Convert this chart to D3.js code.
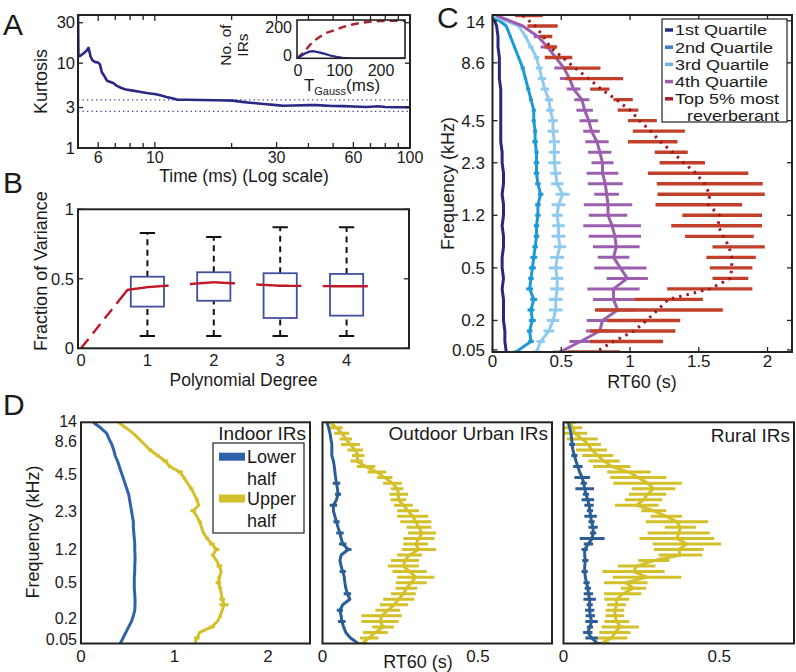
<!DOCTYPE html>
<html><head><meta charset="utf-8">
<script src="https://cdn.jsdelivr.net/npm/d3@7"></script>
<style>
body{margin:0;background:#fff}
svg{display:block}
text{font-family:"Liberation Sans",Arial,Helvetica,sans-serif;fill:#1a1a1a}
</style>
</head><body>
<svg id="chart" width="796" height="672"></svg>
<script>
// ================= DATA =================
// Panel A: kurtosis vs time
const kurtTime  = [5.0,5.02,5.1,5.25,5.4,5.5,5.6,5.7,5.85,6.0, 6.1,6.2,6.35,6.5,6.7,6.9,7.1,7.4,7.7,8.2, 8.7,9.3,10.1,10.6,11.1,11.7,12.2,13.5,15,17.5, 20.2,22,23.6,25.5,27.4,30,31.8,35,40,43, 49.8,55,60,67.5,75,80,90,100];
const kurtValue = [40,12.0,12.2,13.0,14.0,15.2,12.0,10.8,10.3,10.2, 9.6,7.8,7.0,6.2,6.0,5.8,5.4,5.1,4.9,4.75, 4.6,4.45,4.3,4.15,4.0,3.85,3.72,3.7,3.68,3.65, 3.62,3.5,3.42,3.35,3.28,3.2,3.15,3.17,3.2,3.2, 3.13,3.12,3.08,3.04,3.1,3.05,3.02,3.02];
const kurtRefLevels = [3.7, 2.7];
const aXTicks = [6,10,30,60,100];
const aXMinor = [5,7,8,9,20,40,50,70,80,90];
const aYTicks = [1,3,10,30];
// Panel A inset
const gaussTime = [0,10,20,31,42,55,70,92,110,136,155,176,200,230,260];
const gaussCum  = [0,25,55,94,125,152,178,200,220,240,250,258,262,264,265];
const irTime    = [0,10,20,30,38,50,65,80,95,110,125,140,260];
const irCount   = [0,18,35,47,50,44,33,20,10,4,1,0,0];
const insetXTicks = [0,100,200];
const insetYTicks = [0,200];
// Panel B: boxplots by polynomial degree
const degrees   = [1,2,3,4];
const boxQ1     = [0.30,0.342,0.218,0.235];
const boxQ3     = [0.515,0.547,0.54,0.535];
const boxMedian = [0.44,0.475,0.45,0.446];
const whiskLo   = [0.088,0.088,0.088,0.088];
const whiskHi   = [0.83,0.80,0.87,0.87];
const fitOriginX = [0,0.7];
const fitOriginY = [0,0.42];
const bXTicks = [0,1,2,3,4];
const bYTicks = [0,0.5,1];
// Panel C: RT60 per frequency band (33 bands, top = 14 kHz)
const cBands = d3.range(33);
const q1RT = [0.0,0.03,0.04,0.04,0.05,0.05,0.05,0.06,0.06,0.06, 0.06,0.06,0.06,0.07,0.07,0.08,0.08,0.07,0.08,0.08, 0.07,0.08,0.08,0.07,0.07,0.08,0.07,0.08,0.08,0.08, 0.09,0.09,0.10];
const q2RT = [0.0,0.10,0.13,0.16,0.19,0.22,0.24,0.26,0.28,0.30, 0.30,0.31,0.31,0.32,0.32,0.32,0.33,0.35,0.33,0.33, 0.32,0.32,0.31,0.30,0.29,0.28,0.27,0.30,0.28,0.29, 0.27,0.28,0.17];
const q2Err = [0,0.005,0.01,0.01,0.01,0.015,0.01,0.015,0.015,0.015, 0.015,0.015,0.02,0.015,0.02,0.02,0.02,0.02,0.02,0.02, 0.02,0.02,0.02,0.025,0.025,0.02,0.025,0.025,0.025,0.025, 0.02,0.02,0.015];
const q3RT = [0.0,0.19,0.24,0.28,0.32,0.34,0.36,0.38,0.41,0.42, 0.44,0.44,0.45,0.45,0.45,0.46,0.47,0.51,0.48,0.47, 0.48,0.48,0.49,0.47,0.46,0.47,0.47,0.46,0.46,0.44, 0.41,0.35,0.32];
const q3Err = [0,0.01,0.015,0.02,0.02,0.025,0.03,0.03,0.03,0.03, 0.035,0.04,0.04,0.04,0.045,0.04,0.045,0.05,0.05,0.04, 0.045,0.05,0.045,0.05,0.05,0.045,0.05,0.05,0.05,0.045, 0.04,0.03,0.03];
const q4RT = [0.03,0.22,0.33,0.40,0.46,0.52,0.56,0.59,0.65,0.67, 0.70,0.72,0.76,0.78,0.80,0.80,0.82,0.83,0.84,0.84, 0.87,0.89,0.90,0.88,0.93,0.98,0.88,0.88,0.91,0.80, 0.78,0.64,0.49];
const q4Err = [0,0,0.03,0.05,0.07,0.07,0.07,0.05,0.055,0.06, 0.067,0.06,0.085,0.085,0.08,0.115,0.127,0.09,0.176,0.14, 0.21,0.19,0.17,0.115,0.19,0.15,0.19,0.15,0.13,0.115, 0.1,0.08,0.05];
const topRT = [0.265,0.364,0.39,0.425,0.48,0.65,0.74,0.78,0.95,0.985, 1.09,1.21,1.165,1.30,1.38,1.495,1.58,1.59,1.50,1.67, 1.63,1.65,1.79,1.735,1.735,1.73,1.58,1.28,1.21,1.10, 1.02,0.975,0.735];
const topErr = [0.10,0.11,0.045,0.045,0.10,0.135,0.21,0.07,0.07,0.075, 0.105,0.19,0.18,0.12,0.165,0.365,0.385,0.39,0.315,0.29, 0.33,0.25,0.19,0.18,0.155,0.13,0.31,0.25,0.465,0.265, 0.31,0.265,0.19];
const topMedian = [0.22,0.31,0.37,0.42,0.51,0.60,0.70,0.79,0.90,1.00, 1.07,1.15,1.22,1.31,1.39,1.48,1.54,1.58,1.57,1.65, 1.64,1.68,1.72,1.74,1.74,1.73,1.58,1.28,1.20,1.12, 1.03,0.88,0.75];
const cYTickPos = [0.5,4.5,10,14,19,24,29,31.8];
const freqLabels = ["14","8.6","4.5","2.3","1.2","0.5","0.2","0.05"];
const cXTicks = [0,0.5,1,1.5,2];
const cLegend = ["1st Quartile","2nd Quartile","3rd Quartile","4th Quartile","Top 5% most"];
// Panel D: 41 band positions (top = 14 kHz)
const dBands = d3.range(41);
const dYTickPos = [0,3.2,9.5,16.1,22.9,29.0,35.5,39.3];
const indoorLow = [0.13,0.21,0.275,0.30,0.33,0.35,0.365,0.39,0.41,0.43, 0.45,0.47,0.49,0.51,0.52,0.53,0.54,0.55,0.56,0.56, 0.565,0.57,0.575,0.575,0.578,0.578,0.575,0.575,0.57,0.57, 0.57,0.575,0.578,0.578,0.575,0.56,0.54,0.51,0.48,0.45, 0.42];
const indoorLowErr = new Array(41).fill(0);
const indoorUp = [0.40,0.48,0.56,0.62,0.68,0.74,0.82,0.90,0.95,1.06, 1.10,1.14,1.18,1.21,1.24,1.26,1.20,1.24,1.27,1.29, 1.31,1.35,1.40,1.45,1.41,1.45,1.48,1.50,1.48,1.47, 1.49,1.50,1.51,1.53,1.51,1.49,1.46,1.40,1.27,1.24, 1.22];
const indoorUpErr = [0,0,0,0,0,0.02,0.02,0.03,0.02,0.03, 0.02,0,0.02,0,0.02,0,0.03,0,0.02,0, 0,0.02,0.03,0.03,0.02,0,0.03,0,0.02,0.03, 0.02,0,0.03,0.05,0,0.02,0,0.03,0,0.03, 0];
const urbanLow = [0.014,0.02,0.024,0.027,0.03,0.03,0.03,0.035,0.038,0.04, 0.042,0.045,0.048,0.05,0.045,0.035,0.035,0.04,0.045,0.05, 0.056,0.06,0.065,0.083,0.06,0.056,0.06,0.065,0.07,0.072, 0.075,0.08,0.088,0.065,0.056,0.06,0.062,0.068,0.075,0.09, 0.115];
const urbanLowErr = [0,0,0,0,0,0,0,0,0,0, 0,0.012,0,0.01,0,0.012,0,0,0.01,0, 0.012,0,0.012,0.01,0,0,0,0.01,0,0, 0,0.012,0,0,0.01,0,0.012,0,0,0, 0];
const urbanUp = [0.024,0.045,0.062,0.075,0.09,0.105,0.115,0.11,0.14,0.175, 0.20,0.225,0.24,0.245,0.244,0.26,0.275,0.29,0.30,0.31, 0.32,0.31,0.30,0.31,0.28,0.265,0.26,0.28,0.30,0.285, 0.27,0.26,0.245,0.23,0.21,0.19,0.185,0.195,0.17,0.15, 0.126];
const urbanUpErr = [0.01,0.02,0.024,0.02,0.03,0.025,0.02,0.02,0.03,0.03, 0.025,0.03,0.02,0.03,0.025,0.03,0.035,0.05,0.05,0.04, 0.045,0.05,0.04,0.055,0.04,0.045,0.05,0.055,0.06,0.05, 0.035,0.04,0.05,0.045,0.04,0.065,0.06,0.035,0.04,0.03, 0.02];
const ruralLow = [0.015,0.02,0.024,0.026,0.028,0.03,0.035,0.04,0.046,0.052, 0.06,0.065,0.068,0.072,0.078,0.082,0.085,0.087,0.09,0.095, 0.095,0.092,0.08,0.068,0.068,0.07,0.068,0.068,0.07,0.074, 0.078,0.08,0.084,0.084,0.084,0.086,0.09,0.085,0.078,0.09, 0.11];
const ruralLowErr = [0,0,0,0,0.01,0,0.01,0,0.015,0, 0.025,0.01,0.03,0.01,0.02,0.015,0.01,0.02,0.01,0.015, 0.01,0.04,0.015,0.01,0,0.01,0,0.01,0,0.01, 0.01,0.015,0.02,0.01,0.015,0.015,0.02,0.01,0.015,0.02, 0.01];
const ruralUp = [0.02,0.03,0.036,0.06,0.08,0.09,0.11,0.13,0.155,0.21, 0.24,0.27,0.289,0.27,0.257,0.235,0.29,0.33,0.364,0.375, 0.37,0.364,0.396,0.37,0.375,0.29,0.235,0.225,0.268,0.20, 0.225,0.19,0.171,0.17,0.165,0.165,0.171,0.182,0.165,0.155, 0.118];
const ruralUpErr = [0.02,0.03,0.04,0.05,0.04,0.05,0.05,0.05,0.06,0.07, 0.09,0.11,0.07,0.06,0.06,0.07,0.04,0.05,0.1,0.05, 0.1,0.12,0.11,0.08,0.07,0.05,0.06,0.1,0.11,0.07, 0.04,0.06,0.04,0.03,0.03,0.03,0.04,0.06,0.05,0.05, 0.03];
const dTitles = ["Indoor IRs","Outdoor Urban IRs","Rural IRs"];
const dXTicks = [[0,1,2],[0,0.5],[0,0.5]];
const dLegend = [["Lower","half"],["Upper","half"]];

// ================= HELPERS =================
const svg = d3.select("#chart");
const defs = svg.append("defs");
const INK = "#222";
function txt(x, y, s, size, anchor, rotate) {
  const t = svg.append("text").attr("x", x).attr("y", y).attr("dy", "0.35em")
    .attr("text-anchor", anchor || "middle").attr("font-size", size || 17).text(s);
  if (rotate) t.attr("transform", `rotate(-90,${x},${y})`);
  return t;
}
// text drawn with the width of a larger font but a shorter line height
function txtWide(x, y, s, wideSize, size, anchor) {
  const t = txt(x, y, s, wideSize, anchor);
  const w = t.node().getComputedTextLength();
  t.attr("font-size", size).attr("textLength", w).attr("lengthAdjust", "spacingAndGlyphs");
  return t;
}
function clip(id, x0, y0, x1, y1) {
  defs.append("clipPath").attr("id", id).append("rect")
    .attr("x", x0).attr("y", y0).attr("width", x1 - x0).attr("height", y1 - y0);
  return svg.append("g").attr("clip-path", `url(#${id})`);
}
function frame(x0, y0, x1, y1, sw) {
  svg.append("rect").attr("x", x0).attr("y", y0).attr("width", x1 - x0).attr("height", y1 - y0)
    .attr("fill", "none").attr("stroke", INK).attr("stroke-width", sw || 2);
}
function xTicks(pos, y0, y1, len, top) {
  pos.forEach(p => {
    svg.append("line").attr("x1", p).attr("x2", p).attr("y1", y1).attr("y2", y1 - len).attr("stroke", INK).attr("stroke-width", 1.3);
    if (top) svg.append("line").attr("x1", p).attr("x2", p).attr("y1", y0).attr("y2", y0 + len).attr("stroke", INK).attr("stroke-width", 1.3);
  });
}
function yTicks(pos, x0, x1, len) {
  pos.forEach(p => {
    svg.append("line").attr("y1", p).attr("y2", p).attr("x1", x0).attr("x2", x0 + len).attr("stroke", INK).attr("stroke-width", 1.3);
    svg.append("line").attr("y1", p).attr("y2", p).attr("x1", x1).attr("x2", x1 - len).attr("stroke", INK).attr("stroke-width", 1.3);
  });
}
const fmt = d => String(d);

// ================= PANEL A =================
const ax = d3.scaleLog().domain([5, 100]).range([78, 410]);
const ay = d3.scaleLog().domain([1, 37]).range([148, 15]);
const gA = clip("clipA", 78, 15, 410, 148);
kurtRefLevels.forEach(l => {
  gA.append("line").attr("x1", ax(5)).attr("x2", ax(100)).attr("y1", ay(l)).attr("y2", ay(l))
    .attr("stroke", "#3c3c8c").attr("stroke-width", 1.3).attr("stroke-dasharray", "1.3,3.2");
});
gA.append("path").datum(d3.zip(kurtTime, kurtValue))
  .attr("d", d3.line().x(d => ax(d[0])).y(d => ay(d[1])))
  .attr("fill", "none").attr("stroke", "#2a2a86").attr("stroke-width", 2.6).attr("stroke-linejoin", "round");
frame(78, 15, 410, 148);
xTicks(aXTicks.map(ax), 15, 148, 6, true);
xTicks(aXMinor.map(ax), 15, 148, 5, true);
yTicks(aYTicks.map(ay), 78, 410, 5);
aXTicks.forEach(t => txt(ax(t), 157.5, fmt(t), 16));
aYTicks.forEach(t => txt(75, ay(t), fmt(t), 16.5, "end"));
txt(244, 176, "Time (ms) (Log scale)", 17.5);
txt(41, 81.5, "Kurtosis", 18, "middle", true);

// inset
const ix = d3.scaleLinear().domain([0, 260]).range([297, 405]);
const iy = d3.scaleLinear().domain([0, 270]).range([58.3, 20]);
svg.append("rect").attr("x", 297).attr("y", 20).attr("width", 108).attr("height", 38.3).attr("fill", "#fff");
const gI = clip("clipI", 297, 20, 405, 58.3);
gI.append("path").datum(d3.zip(gaussTime, gaussCum))
  .attr("d", d3.line().x(d => ix(d[0])).y(d => iy(d[1])))
  .attr("fill", "none").attr("stroke", "#a8242a").attr("stroke-width", 2.4).attr("stroke-dasharray", "8,5");
gI.append("path").datum(d3.zip(irTime, irCount))
  .attr("d", d3.line().x(d => ix(d[0])).y(d => iy(d[1])))
  .attr("fill", "none").attr("stroke", "#2a2a86").attr("stroke-width", 2.2);
frame(297, 20, 405, 58.3, 1.6);
insetXTicks.forEach(t => txt(ix(t) + 1, 70.5, fmt(t), 16));
insetYTicks.forEach(t => txt(292, iy(t) - 2.5, fmt(t), 16, "end"));
txt(226, 45, "No. of", 15.5, "middle", true);
txt(243, 45, "IRs", 15.5, "middle", true);
const tg = svg.append("text").attr("x", 342).attr("y", 85).attr("dy", "0.35em").attr("text-anchor", "middle").attr("font-size", 17);
tg.append("tspan").text("T");
tg.append("tspan").attr("font-size", 11).attr("dy", 4).text("Gauss");
tg.append("tspan").attr("dy", -4).text("(ms)");

// ================= PANEL B =================
const bx = d3.scaleLinear().domain([-0.045, 4.94]).range([78, 409]);
const by = d3.scaleLinear().domain([0, 1]).range([348.3, 209.3]);
const gB = clip("clipB", 78, 209.3, 409, 348.3);
degrees.forEach((d, i) => {
  [[whiskLo[i], boxQ1[i]], [boxQ3[i], whiskHi[i]]].forEach(([a, b]) => {
    gB.append("line").attr("x1", bx(d)).attr("x2", bx(d)).attr("y1", by(a)).attr("y2", by(b))
      .attr("stroke", "#111").attr("stroke-width", 2).attr("stroke-dasharray", "6,4.5");
  });
  [whiskLo[i], whiskHi[i]].forEach(v => {
    gB.append("line").attr("x1", bx(d - 0.115)).attr("x2", bx(d + 0.115)).attr("y1", by(v)).attr("y2", by(v))
      .attr("stroke", "#111").attr("stroke-width", 2);
  });
  gB.append("rect").attr("x", bx(d - 0.25)).attr("y", by(boxQ3[i]))
    .attr("width", bx(d + 0.25) - bx(d - 0.25)).attr("height", by(boxQ1[i]) - by(boxQ3[i]))
    .attr("fill", "none").attr("stroke", "#4050a0").attr("stroke-width", 1.8);
});
const redX = fitOriginX.concat(degrees), redY = fitOriginY.concat(boxMedian);
const redInterp = d3.scaleLinear().domain(redX).range(redY);
gB.append("line").attr("x1", bx(fitOriginX[0])).attr("y1", by(fitOriginY[0]))
  .attr("x2", bx(fitOriginX[1])).attr("y2", by(fitOriginY[1]))
  .attr("stroke", "#c01828").attr("stroke-width", 2.4).attr("stroke-dasharray", "12,7");
degrees.forEach(d => {
  const xs = d3.range(d - 0.36, d + 0.34, 0.02);
  gB.append("path").datum(xs)
    .attr("d", d3.line().x(x => bx(x)).y(x => by(redInterp(Math.min(x, 4)))))
    .attr("fill", "none").attr("stroke", "#c01828").attr("stroke-width", 2.4);
});
frame(78, 209.3, 409, 348.3);
yTicks(bYTicks.map(by), 78, 409, 5);
bXTicks.forEach(t => txt(bx(t), 360.5, fmt(t), 16.5));
bYTicks.forEach(t => txt(74, by(t), fmt(t), 16.5, "end"));
txt(243.5, 380, "Polynomial Degree", 17.5);
txt(41, 271, "Fraction of Variance", 18, "middle", true);

// ================= PANEL C =================
const cx = d3.scaleLinear().domain([0, 2.178]).range([492.5, 792]);
const cy = d3.scaleLinear().domain([0, 32]).range([15.5, 352]);
const gC = clip("clipC", 492.5, 15, 792, 352);
const cLine = d3.line().x(d => cx(d[1])).y(d => cy(d[0])).curve(d3.curveLinear);
function errBars(g, vals, errs, color, w, sc, ys) {
  vals.forEach((v, i) => {
    if (errs[i] <= 0) return;
    g.append("line").attr("x1", sc(v - errs[i])).attr("x2", sc(v + errs[i]))
      .attr("y1", ys(i)).attr("y2", ys(i)).attr("stroke", color).attr("stroke-width", w);
  });
}
const cSeries = [
  {v: q1RT, e: null, c: "#28287e"},
  {v: q2RT, e: q2Err, c: "#1c9ad6"},
  {v: q3RT, e: q3Err, c: "#8fcbef"},
  {v: q4RT, e: q4Err, c: "#9c5fae"}
];
cSeries.forEach(s => {
  gC.append("path").datum(d3.zip(cBands, s.v)).attr("d", cLine)
    .attr("fill", "none").attr("stroke", s.c).attr("stroke-width", 3).attr("stroke-linejoin", "round");
  if (s.e) errBars(gC, s.v, s.e, s.c, 3, cx, cy);
});
errBars(gC, topRT, topErr, "#c2402a", 3.4, cx, cy);
gC.append("path").datum(d3.zip(cBands, topMedian)).attr("d", cLine)
  .attr("fill", "none").attr("stroke", "#9e1a23").attr("stroke-width", 3).attr("stroke-dasharray", "2.5,5");
frame(492.5, 15, 792, 352);
xTicks(cXTicks.map(cx), 15, 352, 5, true);
yTicks(cYTickPos.map(cy), 492.5, 792, 5);
cXTicks.forEach(t => txt(cx(t), 361, fmt(t), 17));
cYTickPos.forEach((p, i) => txt(485, cy(p) + (i === 0 ? 1 : 0), freqLabels[i], 17, "end"));
txt(642, 381.5, "RT60 (s)", 18);
txt(448, 183.5, "Frequency (kHz)", 18, "middle", true);
// legend
svg.append("rect").attr("x", 662).attr("y", 19).attr("width", 125).attr("height", 103)
  .attr("fill", "#fff").attr("stroke", INK).attr("stroke-width", 1.2);
const legCols = ["#2a2f80", "#3d7fc4", "#68b7e5", "#a15ab0", "#a51c2c"];
const legY = [30, 47.2, 64.4, 81.6, 98.8];
cLegend.forEach((s, i) => {
  svg.append("line").attr("x1", 665).attr("x2", 673).attr("y1", legY[i]).attr("y2", legY[i])
    .attr("stroke", legCols[i]).attr("stroke-width", 3.5);
  txtWide(675, legY[i], s, 18, 15.3, "start");
});
txtWide(733, 115.6, "reverberant", 18, 15.3, "middle");

// ================= PANEL D =================
const dy = d3.scaleLinear().domain([0, 40]).range([422.3, 643.5]);
const dPanels = [
  {x0: 81, x1: 310, dom: [0, 2.45], low: indoorLow, lowE: indoorLowErr, up: indoorUp, upE: indoorUpErr, lowC: "#2f62ab"},
  {x0: 322.5, x1: 552, dom: [0, 0.738], low: urbanLow, lowE: urbanLowErr, up: urbanUp, upE: urbanUpErr, lowC: "#2c5e96"},
  {x0: 563.5, x1: 794, dom: [0, 0.74], low: ruralLow, lowE: ruralLowErr, up: ruralUp, upE: ruralUpErr, lowC: "#2c5e96"}
];
const YEL = "#d3c02a";
dPanels.forEach((p, k) => {
  const sx = d3.scaleLinear().domain(p.dom).range([p.x0, p.x1]);
  const g = clip("clipD" + k, p.x0, 422.3, p.x1, 643.5);
  const ln = d3.line().x(d => sx(d[1])).y(d => dy(d[0]));
  g.append("path").datum(d3.zip(dBands, p.up)).attr("d", ln)
    .attr("fill", "none").attr("stroke", YEL).attr("stroke-width", 3).attr("stroke-linejoin", "round");
  errBars(g, p.up, p.upE, YEL, 3, sx, dy);
  g.append("path").datum(d3.zip(dBands, p.low)).attr("d", ln)
    .attr("fill", "none").attr("stroke", p.lowC).attr("stroke-width", 3).attr("stroke-linejoin", "round");
  errBars(g, p.low, p.lowE, p.lowC, 3, sx, dy);
  frame(p.x0, 422.3, p.x1, 643.5);
  dXTicks[k].forEach(t => txt(sx(t), 656.5, fmt(t), 17));
  txt(p.x1 - 4, k === 2 ? 435 : 433.5, dTitles[k], 19, "end");
});
dYTickPos.forEach((p, i) => txt(77, dy(p) + (i === 0 ? -1 : i === 1 ? 1 : 0), freqLabels[i], 16, "end"));
txt(33, 532, "Frequency (kHz)", 18, "middle", true);
txt(418, 661.5, "RT60 (s)", 18);
// D legend
svg.append("rect").attr("x", 213).attr("y", 443).attr("width", 91).attr("height", 90)
  .attr("fill", "#fff").attr("stroke", INK).attr("stroke-width", 1.2);
[[456.7, "#2f62ab"], [498.5, YEL]].forEach(([y, c], i) => {
  svg.append("rect").attr("x", 219).attr("y", y - 4).attr("width", 26).attr("height", 8).attr("fill", c);
  txt(247, y, dLegend[i][0], 18, "start");
  txt(247, y + 22, dLegend[i][1], 18, "start");
});

// ================= PANEL LETTERS =================
[["A", 3, 35], ["B", 3, 193], ["C", 437, 28], ["D", 3, 415]].forEach(([s, x, y]) => {
  svg.append("text").attr("x", x).attr("y", y).attr("font-size", 30).text(s);
});
</script>
</body></html>
